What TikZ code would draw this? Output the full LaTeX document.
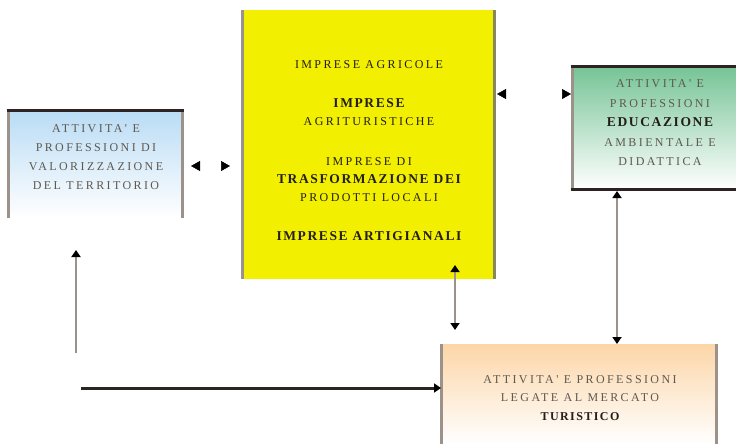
\documentclass[tikz,border=0pt]{standalone}
\usepackage{fontspec}
\setmainfont{Liberation Serif}
\newfontfamily\lblfont[LetterSpace=20]{Liberation Serif}
\newfontfamily\lblbold[LetterSpace=12,UprightFont={* Bold}]{Liberation Serif}
\usetikzlibrary{arrows.meta,calc}
\definecolor{edgegray}{RGB}{156,146,138}
\definecolor{edgedark}{RGB}{43,36,34}
\definecolor{edgeolive}{RGB}{135,135,95}
\definecolor{boxyellow}{RGB}{242,240,0}
\definecolor{bluetop}{RGB}{185,220,245}
\definecolor{bluemid}{RGB}{228,240,250}
\definecolor{greentop}{RGB}{118,196,150}
\definecolor{greenmid}{RGB}{200,230,205}
\definecolor{orangetop}{RGB}{252,214,168}
\definecolor{orangemid}{RGB}{252,236,220}
\definecolor{txtgray}{RGB}{95,88,78}
\definecolor{txtdark}{RGB}{35,30,25}
\tikzset{
  boxbase/.style={anchor=north west, inner sep=0pt, outer sep=0pt, draw=none},
  sideedge/.style={draw=edgegray, line width=3pt},
  topedge/.style={draw=edgedark, line width=3pt},
  labeltext/.style={align=center, inner sep=0pt},
  regfont/.style={font={\lblfont\fontsize{12pt}{19pt}\selectfont}},
  grayconn/.style={draw=edgegray, line width=2.5pt, {Triangle[length=7pt,width=9pt,black]}-{Triangle[length=7pt,width=9pt,black]}},
  tipsonly/.style={draw=white, line width=0.5pt, {Triangle[length=9pt,width=10pt,black]}-{Triangle[length=9pt,width=10pt,black]}},
  upconn/.style={draw=edgegray, line width=2.5pt, -{Triangle[length=7pt,width=9pt,black]}},
  darkconn/.style={draw=edgedark, line width=3pt, -{Triangle[length=7pt,width=9pt,black]}}
}
\newcommand{\bfl}[1]{{\lblbold\fontsize{13.5pt}{18pt}\selectfont #1}}
\begin{document}
\begin{tikzpicture}[x=1pt,y=-1pt]
\useasboundingbox (0,0) rectangle (736,444);
% boxes
\node[boxbase, minimum width=174pt, minimum height=108pt,
      top color=bluetop, middle color=bluemid, bottom color=white] (L) at (8,110) {};
\node[boxbase, minimum width=252pt, minimum height=269pt, fill=boxyellow] (Y) at (242,10) {};
\node[boxbase, minimum width=164pt, minimum height=122pt,
      top color=greentop, middle color=greenmid, bottom color=white] (G) at (572,67) {};
\node[boxbase, minimum width=275pt, minimum height=100pt,
      top color=orangetop, middle color=orangemid, bottom color=white] (O) at (441,344) {};
% edges
\draw[sideedge] (L.north west) -- (L.south west);
\draw[sideedge] (L.north east) -- (L.south east);
\draw[topedge] ([xshift=-1.5pt]L.north west) -- ([xshift=1.5pt]L.north east);
\draw[sideedge] (Y.north west) -- (Y.south west);
\draw[sideedge, draw=edgeolive] (Y.north east) -- (Y.south east);
\draw[sideedge] (G.north west) -- (G.south west);
\draw[topedge] ([xshift=-1.5pt]G.north west) -- (G.north east);
\draw[topedge] ([xshift=-1.5pt]G.south west) -- (G.south east);
\draw[sideedge] (O.north west) -- (O.south west);
\draw[sideedge] (O.north east) -- (O.south east);
% texts
\node[labeltext, regfont, text=txtgray] (Lt) at (96,157)
  {ATTIVITA' E\\PROFESSIONI DI\\VALORIZZAZIONE\\DEL TERRITORIO};
\node[labeltext, text=txtdark, font={\lblfont\fontsize{12pt}{18pt}\selectfont}] (Yt) at (369,151)
  {IMPRESE AGRICOLE\\[21pt]
   \bfl{IMPRESE}\\
   AGRITURISTICHE\\[22pt]
   IMPRESE DI\\
   \bfl{TRASFORMAZIONE DEI}\\
   PRODOTTI LOCALI\\[21pt]
   \bfl{IMPRESE ARTIGIANALI}};
\node[labeltext, text=txtgray, font={\lblfont\fontsize{12pt}{19.5pt}\selectfont}] (Gt) at (660,123)
  {ATTIVITA' E\\PROFESSIONI\\{\color{txtdark}\bfl{EDUCAZIONE}}\\AMBIENTALE E\\DIDATTICA};
\node[labeltext, text=txtgray, font={\lblfont\fontsize{12pt}{18.5pt}\selectfont}] (Ot) at (580,398)
  {ATTIVITA' E PROFESSIONI\\LEGATE AL MERCATO\\{\color{txtdark}\lblbold\fontsize{12pt}{18.5pt}\selectfont TURISTICO}};
% connectors
\coordinate (ygrow) at (0,94);
\coordinate (yox) at (455,0);
\coordinate (gox) at (617,0);
\coordinate (vstart) at (76,353);
\coordinate (hstart) at (81,388);
\draw[tipsonly, shorten <=9pt, shorten >=12pt] ([yshift=-2pt]L.east) -- ([yshift=-2pt]L.east -| Y.west);
\draw[tipsonly, shorten <=3pt, shorten >=1pt] (Y.east |- ygrow) -- (G.west |- ygrow);
\draw[grayconn, shorten <=-14pt, shorten >=14pt] (Y.south -| yox) -- (O.north -| yox);
\draw[grayconn, shorten <=2pt, shorten >=0pt] (G.south -| gox) -- (O.north -| gox);
\draw[upconn, shorten >=32pt] (vstart) -- (L.south -| vstart);
\draw[darkconn] (hstart) -- (O.west |- hstart);
\end{tikzpicture}
\end{document}
